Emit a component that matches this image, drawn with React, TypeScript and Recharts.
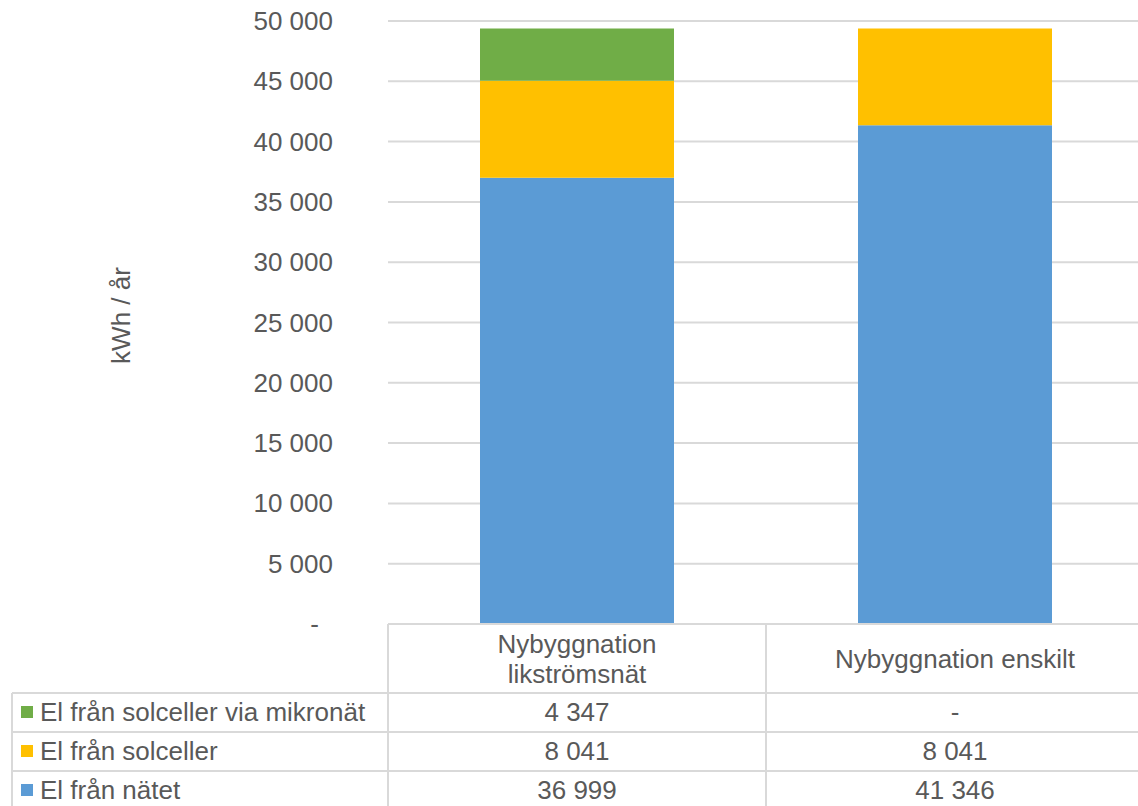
import React from 'react'
import { BarChart, Bar, XAxis, YAxis, CartesianGrid } from 'recharts'

const CATEGORIES = ['Nybyggnation likströmsnät', 'Nybyggnation enskilt']
const CATEGORY_LINES = [['Nybyggnation', 'likströmsnät'], ['Nybyggnation enskilt']]

const EL_NATET = [36999, 41346]
const EL_SOLCELLER = [8041, 8041]
const EL_MIKRONAT = [4347, 0]

const Y_TICKS = [0, 5000, 10000, 15000, 20000, 25000, 30000, 35000, 40000, 45000, 50000]

const SERIES = [
  { key: 'natet', name: 'El från nätet', color: '#5B9BD5', values: EL_NATET },
  { key: 'solceller', name: 'El från solceller', color: '#FFC000', values: EL_SOLCELLER },
  { key: 'mikronat', name: 'El från solceller via mikronät', color: '#70AD47', values: EL_MIKRONAT },
]

// rows in the data table, top to bottom
const TABLE_ROWS = [SERIES[2], SERIES[1], SERIES[0]]

const FONT = '"Liberation Sans", Arial, sans-serif'
const TEXT = '#595959'
const LINE = '#d9d9d9'
const BAND = 378
const CHART_W = 1146
const CHART_H = 806

const chartData = CATEGORIES.map((name, i) => ({
  name,
  natet: EL_NATET[i],
  solceller: EL_SOLCELLER[i],
  mikronat: EL_MIKRONAT[i],
}))

const fmt = (v: number) => (v === 0 ? '-' : String(v).replace(/\B(?=(\d{3})+(?!\d))/g, ' '))

const YTick = (props: any) => {
  const { x, y, payload } = props
  const label = fmt(payload.value)
  return (
    <text
      x={label === '-' ? x - 14 : x}
      y={y}
      textAnchor="end"
      dominantBaseline="central"
      fontFamily={FONT}
      fontSize={26}
      fill={TEXT}
    >
      {label}
    </text>
  )
}

const TableTick = (props: any) => {
  const { x, y, index } = props
  const left = x - BAND / 2
  const right = x + BAND / 2
  const rowLines = [y + 69, y + 108, y + 147]
  const rowCenters = [y + 88, y + 127, y + 166]
  const lines = CATEGORY_LINES[index] ?? []
  const headerTop = lines.length > 1 ? y + 20 : y + 35
  return (
    <g>
      <line x1={left} y1={y} x2={left} y2={CHART_H} stroke={LINE} strokeWidth={2} />
      <line x1={right} y1={y} x2={right} y2={CHART_H} stroke={LINE} strokeWidth={2} />
      {lines.map((t, i) => (
        <text
          key={t}
          x={x}
          y={headerTop + i * 30}
          textAnchor="middle"
          dominantBaseline="central"
          fontFamily={FONT}
          fontSize={26}
          fill={TEXT}
        >
          {t}
        </text>
      ))}
      {TABLE_ROWS.map((s, r) => (
        <text
          key={s.key}
          x={x}
          y={rowCenters[r]}
          textAnchor="middle"
          dominantBaseline="central"
          fontFamily={FONT}
          fontSize={26}
          fill={TEXT}
        >
          {fmt(s.values[index])}
        </text>
      ))}
      {index === 0 ? (
        <g>
          <line x1={12} y1={rowLines[0]} x2={12} y2={CHART_H} stroke={LINE} strokeWidth={2} />
          {rowLines.map((ly) => (
            <line key={ly} x1={12} y1={ly} x2={CHART_W} y2={ly} stroke={LINE} strokeWidth={2} />
          ))}
          {TABLE_ROWS.map((s, r) => (
            <g key={s.key}>
              <rect x={21} y={rowCenters[r] - 6} width={12} height={12} fill={s.color} />
              <text
                x={40}
                y={rowCenters[r]}
                dominantBaseline="central"
                fontFamily={FONT}
                fontSize={26}
                fill={TEXT}
              >
                {s.name}
              </text>
            </g>
          ))}
        </g>
      ) : null}
    </g>
  )
}

const YTitle = (props: any) => {
  const vb = props.viewBox ?? { y: 21, height: 603 }
  const cx = 121
  const cy = vb.y + vb.height / 2 - 7
  return (
    <text
      x={cx}
      y={cy}
      transform={`rotate(-90, ${cx}, ${cy})`}
      textAnchor="middle"
      dominantBaseline="central"
      fontFamily={FONT}
      fontSize={26}
      fill={TEXT}
    >
      kWh / år
    </text>
  )
}

export default function App() {
  return (
    <div
      style={{
        position: 'absolute',
        left: 0,
        top: 0,
        width: 1138,
        height: 806,
        overflow: 'hidden',
        background: '#fff',
      }}
    >
      <BarChart
        width={CHART_W}
        height={CHART_H}
        data={chartData}
        margin={{ top: 21, right: 2, bottom: 0, left: 0 }}
        barSize={194}
      >
        <CartesianGrid vertical={false} stroke={LINE} strokeWidth={2} />
        <XAxis
          dataKey="name"
          height={182}
          axisLine={{ stroke: LINE, strokeWidth: 2 }}
          tickLine={false}
          tickSize={0}
          tickMargin={0}
          interval={0}
          tick={<TableTick />}
        />
        <YAxis
          width={388}
          domain={[0, 50000]}
          ticks={Y_TICKS}
          axisLine={false}
          tickLine={false}
          tickSize={0}
          tickMargin={55}
          tick={<YTick />}
          label={{ content: (p: any) => <YTitle {...p} /> }}
        />
        {SERIES.map((s) => (
          <Bar key={s.key} dataKey={s.key} name={s.name} stackId="a" fill={s.color} isAnimationActive={false} />
        ))}
      </BarChart>
    </div>
  )
}
